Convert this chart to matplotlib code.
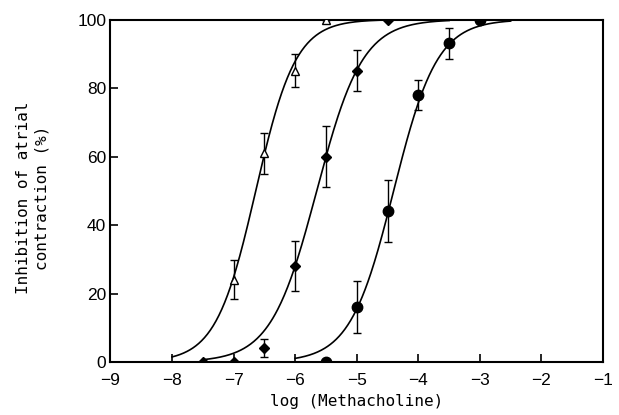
import numpy as np
import matplotlib
matplotlib.use("Agg")
import matplotlib.pyplot as plt

# Data
x_tri = [-7.0, -6.5, -6.0, -5.5]
y_tri = [24, 61, 85, 100]
e_tri = [5.7, 6.0, 4.8, 0]

x_dia = [-7.5, -7.0, -6.5, -6.0, -5.5, -5.0, -4.5]
y_dia = [0, 0, 4, 28, 60, 85, 100]
e_dia = [0, 0, 2.6, 7.3, 9.0, 6.0, 0]

x_cir = [-5.5, -5.0, -4.5, -4.0, -3.5, -3.0]
y_cir = [0, 16, 44, 78, 93, 100]
e_cir = [0, 7.6, 9.0, 4.4, 4.4, 0]

# Fitted logistic curves (EC50 in log units, Hill slope, drawn range)
fit_tri = dict(ec50=-6.64, hill=1.34, start=-8.0, end=-4.5)
fit_dia = dict(ec50=-5.65, hill=1.17, start=-7.5, end=-3.5)
fit_cir = dict(ec50=-4.40, hill=1.23, start=-6.0, end=-2.5)

xticks = [-9, -8, -7, -6, -5, -4, -3, -2, -1]
yticks = [0, 20, 40, 60, 80, 100]

fig = plt.figure(figsize=(6.19, 4.15), dpi=100)
ax = fig.add_axes([0.1785, 0.1277, 0.7956, 0.8253])

def curve(p):
    xs = np.linspace(p["start"], p["end"], 300)
    ys = 100.0 / (1.0 + 10 ** (p["hill"] * (p["ec50"] - xs)))
    return xs, ys

for p in (fit_tri, fit_dia, fit_cir):
    xs, ys = curve(p)
    ax.plot(xs, ys, color="black", lw=1.2, zorder=2)

ekw = dict(fmt="none", ecolor="black", elinewidth=1.0, capsize=3, capthick=1.0, zorder=3)
ax.errorbar(x_tri, y_tri, yerr=e_tri, **ekw)
ax.errorbar(x_dia, y_dia, yerr=e_dia, **ekw)
ax.errorbar(x_cir, y_cir, yerr=e_cir, **ekw)

ax.plot(x_tri, y_tri, ls="none", marker="^", ms=6, mfc="white", mec="black", mew=1.0, zorder=4)
ax.plot(x_dia, y_dia, ls="none", marker="D", ms=5, mfc="black", mec="black", zorder=4)
ax.plot(x_cir, y_cir, ls="none", marker="o", ms=7.5, mfc="black", mec="black", zorder=4)

ax.set_xlim(-9, -1)
ax.set_ylim(0, 100)
ax.set_xticks(xticks)
ax.set_yticks(yticks)
ax.set_xticklabels([("\u2212%d" % abs(t)) for t in xticks], family="Liberation Sans", fontsize=12.5)
ax.set_yticklabels([str(t) for t in yticks], family="Liberation Sans", fontsize=12.5)
ax.tick_params(direction="in", length=6, width=1.2)
ax.tick_params(axis="x", pad=8)
ax.tick_params(axis="y", pad=3)
for s in ax.spines.values():
    s.set_linewidth(1.5)

ax.set_xlabel("log (Methacholine)", family="DejaVu Sans Mono", fontsize=11.5, labelpad=4)
ax.set_ylabel("Inhibition of atrial\ncontraction (%)", family="DejaVu Sans Mono",
              fontsize=11.5, labelpad=20, linespacing=1.3, y=0.48)

fig.savefig("out.png", dpi=100)
